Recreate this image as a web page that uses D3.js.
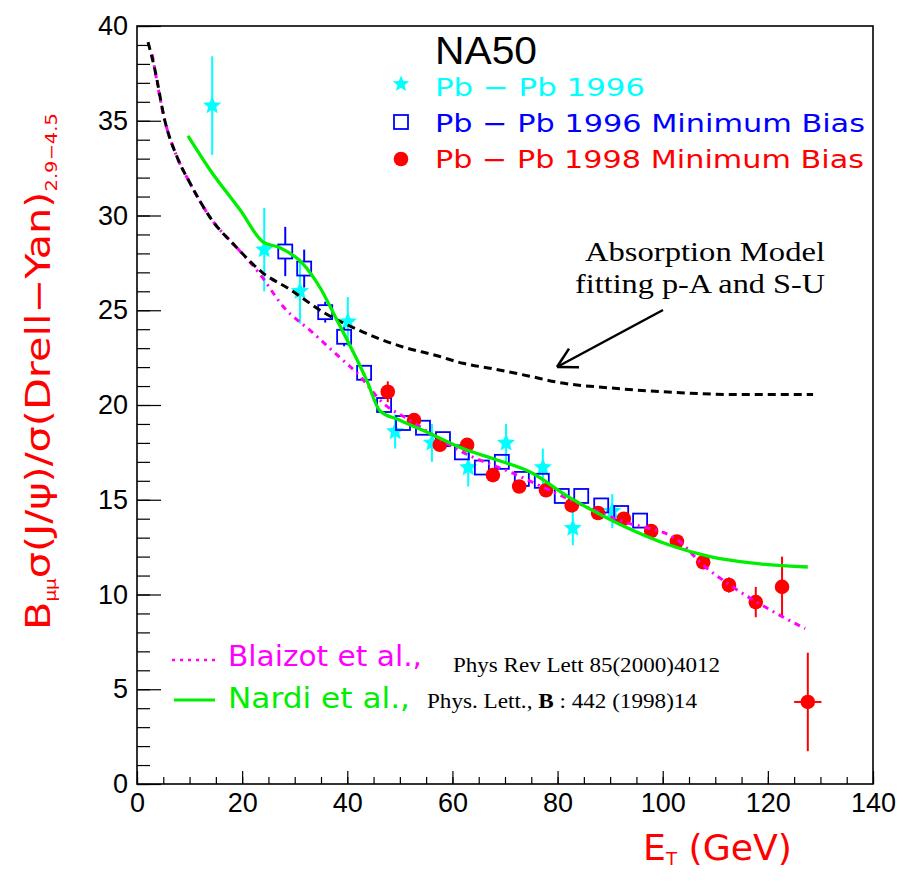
<!DOCTYPE html>
<html><head><meta charset="utf-8">
<script src="https://cdn.jsdelivr.net/npm/d3@7"></script>
<style>body{margin:0;background:#fff}svg{display:block}</style>
</head><body>
<svg id="chart" width="918" height="884"></svg>
<script>
// ---------- data ----------
const xTickValues = [0, 20, 40, 60, 80, 100, 120, 140];
const yTickValues = [0, 5, 10, 15, 20, 25, 30, 35, 40];

// Pb-Pb 1996 (stars)
const pb96Et    = [14.3, 24.2, 31.0, 40.1, 49.1, 56.1, 63.0, 70.2, 77.2, 82.9, 90.4];
const pb96Ratio = [35.8, 28.2, 26.0, 24.4, 18.6, 18.0, 16.7, 18.0, 16.7, 13.5, 14.4];
const pb96Err   = [2.6, 2.2, 1.7, 1.3, 0.9, 1.0, 1.0, 1.0, 1.0, 0.9, 0.9];

// Pb-Pb 1996 Minimum Bias (open squares)
const mb96Et    = [28.2, 31.8, 35.8, 39.4, 43.2, 47.0, 50.6, 54.4, 58.2, 61.8, 65.6, 69.4, 73.2, 77.0, 80.8, 84.5, 88.3, 92.1, 95.7];
const mb96Ratio = [28.1, 27.2, 24.9, 23.6, 21.7, 20.0, 19.05, 18.8, 18.2, 17.5, 16.7, 17.0, 16.1, 16.0, 15.2, 15.2, 14.7, 14.3, 13.9];
const mb96Err   = [1.3, 1.0, 0.55, 0.5, 0.35, 0.3, 0.3, 0.3, 0.3, 0.3, 0.3, 0.3, 0.3, 0.3, 0.3, 0.3, 0.3, 0.3, 0.3];

// Pb-Pb 1998 Minimum Bias (filled circles)
const mb98Et    = [47.7, 52.7, 57.6, 62.8, 67.7, 72.7, 77.8, 82.7, 87.7, 92.6, 97.8, 102.7, 107.7, 112.6, 117.7, 122.7, 127.6];
const mb98Ratio = [20.7, 19.2, 17.9, 17.9, 16.3, 15.7, 15.5, 14.7, 14.3, 14.0, 13.35, 12.8, 11.7, 10.5, 9.6, 10.4, 4.33];
const mb98Err   = [0.55, 0.3, 0.3, 0.3, 0.3, 0.3, 0.3, 0.3, 0.3, 0.3, 0.3, 0.3, 0.35, 0.4, 0.8, 1.6, 2.6];
const mb98EtErr = [0, 0, 0, 0, 0, 0, 0, 0, 0, 0, 0, 0, 0, 0, 0, 0, 2.6];

// Absorption model (black dashed)
const absEt    = [2.1, 3.4, 5.3, 7.6, 10.1, 13.9, 19.0, 23.8, 29.1, 35.4, 41.8, 50.6, 57.1, 62, 68, 75, 80, 90, 100, 107, 115, 128.6];
const absRatio = [39.15, 37.7, 35.0, 33.1, 31.7, 29.9, 28.3, 27.0, 26.1, 24.9, 24.0, 23.06, 22.6, 22.2, 21.9, 21.5, 21.2, 20.9, 20.7, 20.6, 20.55, 20.55];

// Blaizot et al. (magenta dash-dot)
const blaizotEt    = [2.9, 5.3, 7.6, 10.1, 13.9, 19.0, 23.4, 27.8, 33.5, 38.6, 41.8, 46.8, 51.9, 57, 62, 71.5, 82.4, 91.9, 102.7, 107.7, 112.8, 122.3, 127.1];
const blaizotRatio = [38.5, 35.0, 33.1, 31.7, 29.9, 28.3, 26.9, 25.2, 23.8, 22.5, 21.7, 20.1, 19.2, 18.3, 17.5, 16.4, 15.0, 13.9, 12.9, 11.55, 10.5, 8.9, 8.2];

// Nardi et al. (green solid)
const nardiEt    = [9.7, 13.9, 19.6, 24.0, 27.2, 31.4, 34.8, 38.0, 41.3, 43.7, 46.2, 50.0, 55.7, 62.0, 68.5, 74.5, 82.4, 91.9, 101.4, 109.0, 117.2, 127.6];
const nardiRatio = [34.2, 32.4, 30.3, 28.6, 28.3, 27.5, 26.2, 24.5, 22.7, 21.3, 19.7, 19.2, 18.5, 17.7, 17.1, 16.5, 15.1, 13.7, 12.6, 12.0, 11.65, 11.45];

const legendTitle = "NA50";
const legendLabels = ["Pb \u2212 Pb 1996", "Pb \u2212 Pb 1996 Minimum Bias", "Pb \u2212 Pb 1998 Minimum Bias"];
const modelLabels = ["Blaizot et al.,", "Nardi et al.,"];
const modelRefs = ["Phys Rev Lett 85(2000)4012", "Phys. Lett., B : 442 (1998)14"];
const annotationLines = ["Absorption Model", "fitting p-A and S-U"];

// ---------- drawing ----------
const svg = d3.select("#chart");
const W = 918, H = 884;
const L = 137, R = 873, T = 26, B = 784;
const x = d3.scaleLinear().domain([0, 140]).range([L, R]);
const y = d3.scaleLinear().domain([0, 40]).range([B, T]);

const SANS = "'Liberation Sans', Arial, sans-serif";
const WIDE = "'DejaVu Sans', Verdana, sans-serif";
const SERIF = "'Liberation Serif', 'Times New Roman', serif";

svg.append("rect").attr("width", W).attr("height", H).attr("fill", "#fff");

// axes
const gx = svg.append("g").attr("transform", `translate(0,${B})`);
gx.call(d3.axisBottom(x).tickValues(d3.range(0, 141, 5)).tickSize(-7).tickFormat(""))
  .call(g => g.select(".domain").remove());
const gxMaj = svg.append("g").attr("transform", `translate(0,${B})`);
gxMaj.call(d3.axisBottom(x).tickValues(xTickValues).tickSize(-13).tickPadding(9).tickFormat(d3.format("d")))
  .call(g => g.select(".domain").remove());

const gy = svg.append("g").attr("transform", `translate(${L},0)`);
gy.call(d3.axisLeft(y).tickValues(d3.range(0, 41, 1)).tickSize(-13).tickFormat(""))
  .call(g => g.select(".domain").remove());
const gyMaj = svg.append("g").attr("transform", `translate(${L},0)`);
gyMaj.call(d3.axisLeft(y).tickValues(yTickValues).tickSize(-24).tickPadding(9).tickFormat(d3.format("d")))
  .call(g => g.select(".domain").remove());

svg.selectAll(".tick line").attr("stroke", "#000").attr("stroke-width", 1.2);
svg.selectAll(".tick text").attr("font-family", SANS).attr("font-size", 27).attr("fill", "#000");

// frame
svg.append("rect").attr("x", L).attr("y", T).attr("width", R - L).attr("height", B - T)
  .attr("fill", "none").attr("stroke", "#000").attr("stroke-width", 1.6);

// marker helpers
function starPath(r) {
  const ri = r * 0.45; let p = "";
  for (let i = 0; i < 10; i++) {
    const a = -Math.PI / 2 + i * Math.PI / 5, rr = i % 2 ? ri : r;
    p += (i ? "L" : "M") + (rr * Math.cos(a)).toFixed(2) + "," + (rr * Math.sin(a)).toFixed(2);
  }
  return p + "Z";
}
const CYAN = "#00ffff", BLUE = "#0000ff", RED = "#ff0000", MAG = "#ff00ff", GREEN = "#00ee00";

// Pb-Pb 1996 stars
const g96 = svg.append("g");
pb96Et.forEach((e, i) => {
  g96.append("line").attr("x1", x(e)).attr("x2", x(e))
    .attr("y1", y(pb96Ratio[i] + pb96Err[i])).attr("y2", y(pb96Ratio[i] - pb96Err[i]))
    .attr("stroke", CYAN).attr("stroke-width", 2);
  g96.append("path").attr("d", starPath(9.5)).attr("transform", `translate(${x(e)},${y(pb96Ratio[i])})`)
    .attr("fill", CYAN);
});

// Min bias 1996 squares
const gmb = svg.append("g");
const hs = 7;
mb96Et.forEach((e, i) => {
  const cx = x(e), cy = y(mb96Ratio[i]);
  const top = y(mb96Ratio[i] + mb96Err[i]), bot = y(mb96Ratio[i] - mb96Err[i]);
  if (cy - top > hs) gmb.append("line").attr("x1", cx).attr("x2", cx).attr("y1", top).attr("y2", cy - hs)
    .attr("stroke", BLUE).attr("stroke-width", 2);
  if (bot - cy > hs) gmb.append("line").attr("x1", cx).attr("x2", cx).attr("y1", cy + hs).attr("y2", bot)
    .attr("stroke", BLUE).attr("stroke-width", 2);
  gmb.append("rect").attr("x", cx - hs).attr("y", cy - hs).attr("width", 2 * hs).attr("height", 2 * hs)
    .attr("fill", "none").attr("stroke", BLUE).attr("stroke-width", 1.8);
});

// Min bias 1998 circles
const g98 = svg.append("g");
mb98Et.forEach((e, i) => {
  const cx = x(e), cy = y(mb98Ratio[i]);
  g98.append("line").attr("x1", cx).attr("x2", cx)
    .attr("y1", y(mb98Ratio[i] + mb98Err[i])).attr("y2", y(mb98Ratio[i] - mb98Err[i]))
    .attr("stroke", RED).attr("stroke-width", 2);
  if (mb98EtErr[i] > 0) g98.append("line").attr("x1", x(e - mb98EtErr[i])).attr("x2", x(e + mb98EtErr[i]))
    .attr("y1", cy).attr("y2", cy).attr("stroke", RED).attr("stroke-width", 2);
  g98.append("circle").attr("cx", cx).attr("cy", cy).attr("r", 7.3).attr("fill", RED);
});

// curves
const line = d3.line().x(d => x(d[0])).y(d => y(d[1])).curve(d3.curveMonotoneX);
svg.append("path").attr("d", line(d3.zip(blaizotEt, blaizotRatio)))
  .attr("fill", "none").attr("stroke", MAG).attr("stroke-width", 3).attr("stroke-dasharray", "6,5,2,5");
svg.append("path").attr("d", line(d3.zip(absEt, absRatio)))
  .attr("fill", "none").attr("stroke", "#000").attr("stroke-width", 3).attr("stroke-dasharray", "8,5");
svg.append("path").attr("d", line(d3.zip(nardiEt, nardiRatio)))
  .attr("fill", "none").attr("stroke", GREEN).attr("stroke-width", 3.3);

// legend (top)
svg.append("text").attr("x", 435).attr("y", 64).attr("font-family", SANS).attr("font-size", 38)
  .attr("fill", "#000").attr("textLength", 102).attr("lengthAdjust", "spacingAndGlyphs").text(legendTitle);
const legColors = [CYAN, BLUE, RED];
const legBase = [96, 132, 168];
const legLen = [210, 430, 429];
legendLabels.forEach((t, i) => {
  svg.append("text").attr("x", 435).attr("y", legBase[i]).attr("font-family", WIDE).attr("font-size", 25)
    .attr("fill", legColors[i]).attr("textLength", legLen[i]).attr("lengthAdjust", "spacingAndGlyphs").text(t);
});
svg.append("path").attr("d", starPath(8.5)).attr("transform", "translate(401,84)").attr("fill", CYAN);
svg.append("rect").attr("x", 401 - 7).attr("y", 122 - 7).attr("width", 14).attr("height", 14)
  .attr("fill", "none").attr("stroke", BLUE).attr("stroke-width", 1.8);
svg.append("circle").attr("cx", 401).attr("cy", 159).attr("r", 7.3).attr("fill", RED);

// legend (bottom, models)
svg.append("line").attr("x1", 172).attr("x2", 215).attr("y1", 660).attr("y2", 660)
  .attr("stroke", MAG).attr("stroke-width", 2.5).attr("stroke-dasharray", "3,5");
svg.append("line").attr("x1", 174).attr("x2", 215).attr("y1", 700).attr("y2", 700)
  .attr("stroke", GREEN).attr("stroke-width", 3);
svg.append("text").attr("x", 228).attr("y", 666).attr("font-family", WIDE).attr("font-size", 28)
  .attr("fill", MAG).attr("textLength", 194).attr("lengthAdjust", "spacingAndGlyphs").text(modelLabels[0]);
svg.append("text").attr("x", 228).attr("y", 708).attr("font-family", WIDE).attr("font-size", 28)
  .attr("fill", GREEN).attr("textLength", 182).attr("lengthAdjust", "spacingAndGlyphs").text(modelLabels[1]);
svg.append("text").attr("x", 453).attr("y", 672).attr("font-family", SERIF).attr("font-size", 22)
  .attr("fill", "#000").attr("textLength", 267).attr("lengthAdjust", "spacingAndGlyphs").text(modelRefs[0]);
const ref2 = svg.append("text").attr("x", 427).attr("y", 708).attr("font-family", SERIF).attr("font-size", 22)
  .attr("fill", "#000").attr("textLength", 270).attr("lengthAdjust", "spacingAndGlyphs");
ref2.append("tspan").text("Phys. Lett., ");
ref2.append("tspan").attr("font-weight", "bold").text("B");
ref2.append("tspan").text(" : 442 (1998)14");

// annotation
svg.append("text").attr("x", 585).attr("y", 261).attr("font-family", SERIF).attr("font-size", 27)
  .attr("fill", "#000").attr("textLength", 240).attr("lengthAdjust", "spacingAndGlyphs").text(annotationLines[0]);
svg.append("text").attr("x", 575).attr("y", 293).attr("font-family", SERIF).attr("font-size", 27)
  .attr("fill", "#000").attr("textLength", 250).attr("lengthAdjust", "spacingAndGlyphs").text(annotationLines[1]);
// arrow
const ax1 = 663, ay1 = 310, ax2 = 557, ay2 = 367;
svg.append("line").attr("x1", ax1).attr("y1", ay1).attr("x2", ax2).attr("y2", ay2)
  .attr("stroke", "#000").attr("stroke-width", 2.5);
const ang = Math.atan2(ay1 - ay2, ax1 - ax2);
[0.5, -0.5].forEach(da => {
  svg.append("line").attr("x1", ax2).attr("y1", ay2)
    .attr("x2", ax2 + 22 * Math.cos(ang + da)).attr("y2", ay2 + 22 * Math.sin(ang + da))
    .attr("stroke", "#000").attr("stroke-width", 2.5);
});

// axis titles
const yt = svg.append("text").attr("font-family", WIDE).attr("font-size", 34).attr("fill", RED)
  .attr("transform", "translate(50,630) rotate(-90)");
yt.append("tspan").text("B");
yt.append("tspan").attr("font-size", 15).attr("dy", 6).text("\u03bc\u03bc");
yt.append("tspan").attr("dy", -6).text("\u03c3(J/\u03c8)/\u03c3(Drell\u2212Yan)");
yt.append("tspan").attr("font-size", 16).attr("dy", 7).text("2.9\u22124.5");
const ytw = yt.node().getComputedTextLength();
yt.attr("transform", `translate(50,630) rotate(-90) scale(${517 / ytw},1)`);

const xt = svg.append("text").attr("font-family", WIDE).attr("font-size", 36).attr("fill", RED);
xt.append("tspan").text("E");
xt.append("tspan").attr("font-size", 18).attr("dy", 5).text("T");
xt.append("tspan").attr("dy", -5).text(" (GeV)");
const xtw = xt.node().getComputedTextLength();
xt.attr("transform", `translate(643,860) scale(${149 / xtw},1)`);
</script>
</body></html>
